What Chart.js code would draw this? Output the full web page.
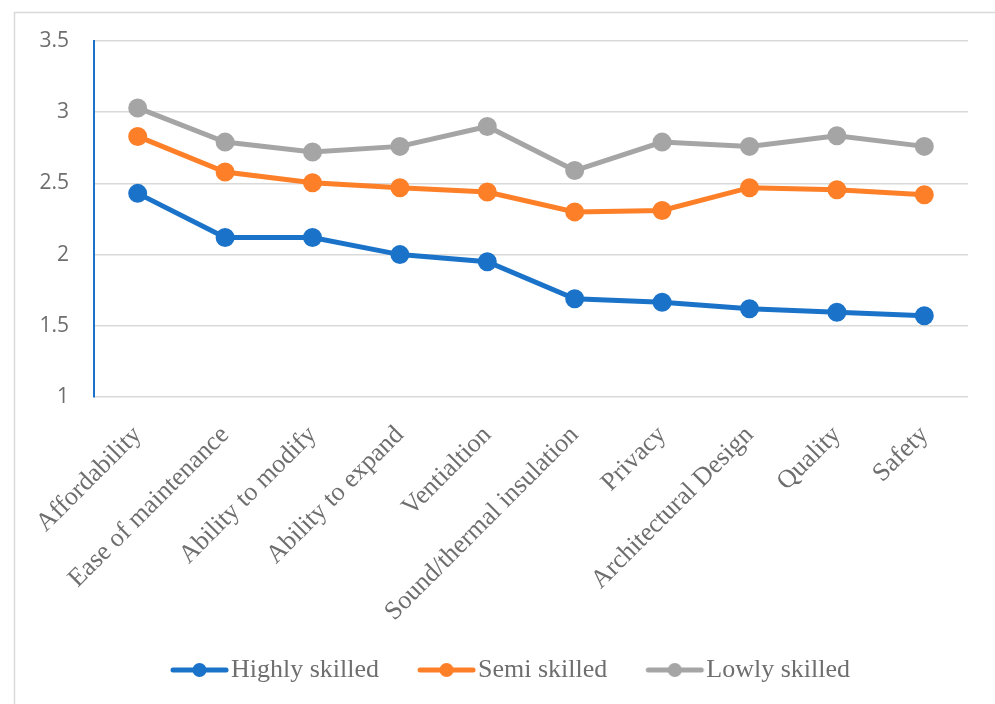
<!DOCTYPE html>
<html>
<head>
<meta charset="utf-8">
<script src="https://cdn.jsdelivr.net/npm/chart.js@4/dist/chart.umd.min.js"></script>
<style>
  html, body { margin: 0; padding: 0; background: #fff; overflow: hidden; }
  #c { display: block; }
</style>
</head>
<body>
<canvas id="c" width="995" height="704"></canvas>
<script>
const categories = ["Affordability", "Ease of maintenance", "Ability to modify", "Ability to expand", "Ventialtion", "Sound/thermal insulation", "Privacy", "Architectural Design", "Quality", "Safety"];
const highlySkilled = [2.43, 2.12, 2.12, 2.00, 1.95, 1.69, 1.665, 1.62, 1.595, 1.57];
const semiSkilled = [2.83, 2.58, 2.505, 2.47, 2.44, 2.30, 2.31, 2.47, 2.455, 2.42];
const lowlySkilled = [3.03, 2.79, 2.72, 2.76, 2.90, 2.59, 2.79, 2.76, 2.835, 2.76];
const yTickValues = [1, 1.5, 2, 2.5, 3, 3.5];
const seriesNames = ["Highly skilled", "Semi skilled", "Lowly skilled"];

const BLUE = "#1a73c8", ORANGE = "#fd7f28", GRAY = "#a5a5a5";
const TEXT = "#6e6e6e";
const SERIF = "'Liberation Serif', 'DejaVu Serif', serif";
const SANS = "'Open Sans', 'Liberation Sans', sans-serif";

function legendImg(color) {
  const cv = document.createElement("canvas");
  cv.width = 100; cv.height = 18;
  const g = cv.getContext("2d");
  g.strokeStyle = color; g.lineWidth = 5; g.lineCap = "round";
  g.beginPath(); g.moveTo(43, 9); g.lineTo(96, 9); g.stroke();
  g.fillStyle = color;
  g.beginPath(); g.arc(69.5, 9, 7, 0, Math.PI * 2); g.fill();
  return cv;
}

const framePlugin = {
  id: "frame",
  beforeDraw(chart) {
    const ctx = chart.ctx;
    ctx.save();
    ctx.fillStyle = "#fff";
    ctx.fillRect(0, 0, chart.width, chart.height);
    ctx.strokeStyle = "#d9d9d9";
    ctx.lineWidth = 1.5;
    ctx.beginPath();
    ctx.moveTo(14.5, chart.height + 5);
    ctx.lineTo(14.5, 12.5);
    ctx.lineTo(chart.width + 5, 12.5);
    ctx.stroke();
    ctx.restore();
  }
};

const legendNudge = {
  id: "legendNudge",
  afterLayout(chart) {
    const lg = chart.legend;
    if (lg) { lg.left += 12; lg.right += 12; }
  }
};

const mkDs = (label, data, color) => ({
  label, data,
  borderColor: color, backgroundColor: color,
  pointBackgroundColor: color, pointBorderColor: color,
  borderWidth: 5, pointRadius: 7, pointHoverRadius: 7,
  pointStyle: "circle", tension: 0
});

new Chart(document.getElementById("c"), {
  type: "line",
  data: {
    labels: categories,
    datasets: [
      mkDs(seriesNames[0], highlySkilled, BLUE),
      mkDs(seriesNames[1], semiSkilled, ORANGE),
      mkDs(seriesNames[2], lowlySkilled, GRAY)
    ]
  },
  options: {
    responsive: false,
    animation: false,
    events: [],
    layout: { padding: { top: 41, right: 27, bottom: 11, left: 0 } },
    plugins: {
      tooltip: { enabled: false },
      legend: {
        position: "bottom",
        labels: {
          usePointStyle: true,
          pointStyleWidth: 76,
          padding: 10,
          color: TEXT,
          font: { family: SERIF, size: 26 },
          generateLabels(chart) {
            return chart.data.datasets.map((ds, i) => ({
              text: ds.label,
              fillStyle: ds.borderColor,
              strokeStyle: ds.borderColor,
              lineWidth: 0,
              pointStyle: legendImg(ds.borderColor),
              datasetIndex: i,
              hidden: false,
              fontColor: TEXT
            }));
          }
        }
      }
    },
    scales: {
      x: {
        offset: true,
        grid: { display: false, drawTicks: false },
        border: { display: false },
        ticks: {
          autoSkip: false, minRotation: 45, maxRotation: 45, padding: 23,
          color: TEXT, font: { family: SERIF, size: 26 }
        },
        afterFit(scale) { scale.height = 250; }
      },
      y: {
        min: 1, max: 3.5,
        afterBuildTicks(scale) { scale.ticks = yTickValues.map(v => ({ value: v })); },
        grid: { color: "#d9d9d9", lineWidth: 1.5, drawTicks: false },
        border: { display: true, color: BLUE, width: 2 },
        ticks: {
          padding: 25, color: TEXT, font: { family: SANS, size: 21 },
          callback: v => String(v)
        },
        afterFit(scale) { scale.width = 94; }
      }
    }
  },
  plugins: [framePlugin, legendNudge]
});
</script>
</body>
</html>
